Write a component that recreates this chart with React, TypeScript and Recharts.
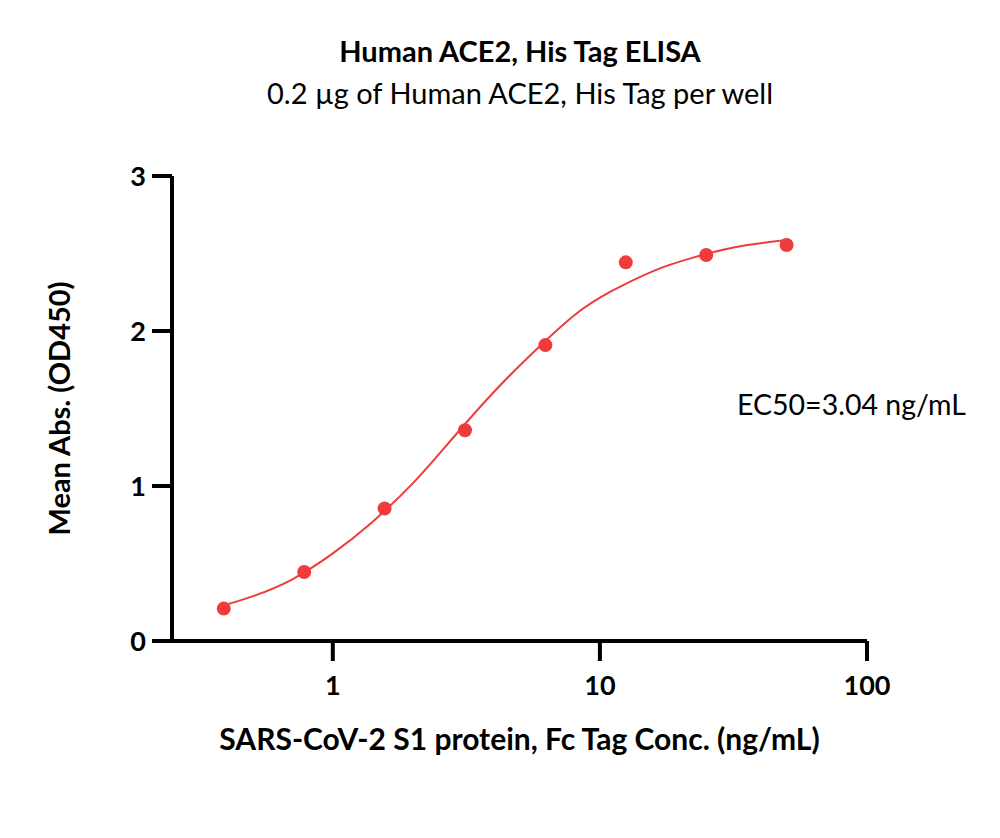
import { ComposedChart, Line, Scatter, XAxis, YAxis } from "recharts";

// 2-fold dilution series of SARS-CoV-2 S1 (ng/mL) and mean OD450
const concentrations = [0.390625, 0.78125, 1.5625, 3.125, 6.25, 12.5, 25, 50];
const meanAbs = [0.209, 0.445, 0.855, 1.36, 1.909, 2.443, 2.49, 2.555];

// fitted curve
const fitConc = [0.39, 0.5, 0.7, 1, 1.4, 2, 2.8, 4, 5.6, 8, 11, 16, 22, 32, 50];
const fitAbs = [0.23, 0.288, 0.395, 0.565, 0.765, 1.02, 1.305, 1.605, 1.858, 2.1, 2.255, 2.39, 2.47, 2.54, 2.587];

const xTicks = [1, 10, 100];
const yTicks = [0, 1, 2, 3];

const RED = "#EF3B3B";
const FONT = "Lato, 'Open Sans', sans-serif";

const points = concentrations.map((c, i) => ({ conc: c, abs: meanAbs[i] }));
const curve = fitConc.map((c, i) => ({ conc: c, abs: fitAbs[i] }));

const tickStyle = { fill: "#000", fontSize: 27, fontWeight: 700, fontFamily: FONT };

export default function App() {
    return (
        <div style={{ position: "absolute", left: 0, top: 0, width: 1000, height: 838, background: "#fff", fontFamily: FONT }}>
            <div style={{ position: "absolute", left: 0, width: 1040, top: 33, textAlign: "center", fontSize: 29, fontWeight: 700 }}>
                Human ACE2, His Tag ELISA
            </div>
            <div style={{ position: "absolute", left: 0, width: 1040, top: 75, textAlign: "center", fontSize: 29 }}>
                0.2 µg of Human ACE2, His Tag per well
            </div>
            <ComposedChart width={1000} height={838} margin={{ top: 176, right: 133, left: 0, bottom: 0 }}>
                <XAxis
                    dataKey="conc"
                    type="number"
                    scale="log"
                    domain={[0.25, 100]}
                    ticks={xTicks}
                    allowDataOverflow
                    height={197}
                    tickSize={20}
                    tickMargin={15}
                    axisLine={{ stroke: "#000", strokeWidth: 4 }}
                    tickLine={{ stroke: "#000", strokeWidth: 4 }}
                    tick={tickStyle}
                    label={{
                        value: "SARS-CoV-2 S1 protein, Fc Tag Conc. (ng/mL)",
                        position: "insideTop",
                        offset: 88,
                        style: { fill: "#000", fontSize: 30, fontWeight: 700, fontFamily: FONT },
                    }}
                />
                <YAxis
                    dataKey="abs"
                    type="number"
                    domain={[0, 3]}
                    ticks={yTicks}
                    width={172}
                    tickSize={20}
                    tickMargin={6}
                    axisLine={{ stroke: "#000", strokeWidth: 4 }}
                    tickLine={{ stroke: "#000", strokeWidth: 4 }}
                    tick={tickStyle}
                    label={{
                        value: "Mean Abs. (OD450)",
                        angle: -90,
                        position: "insideLeft",
                        offset: 60,
                        style: { fill: "#000", fontSize: 29, fontWeight: 700, fontFamily: FONT, textAnchor: "middle" },
                    }}
                />
                <Line
                    data={curve}
                    dataKey="abs"
                    type="natural"
                    stroke={RED}
                    strokeWidth={2}
                    dot={false}
                    activeDot={false}
                    isAnimationActive={false}
                />
                <Scatter
                    data={points}
                    dataKey="abs"
                    fill={RED}
                    isAnimationActive={false}
                    shape={(p: any) => <circle cx={p.cx} cy={p.cy} r={7} fill={RED} />}
                />
            </ComposedChart>
            <div style={{ position: "absolute", left: 737, top: 387, fontSize: 28.5 }}>EC50=3.04 ng/mL</div>
        </div>
    );
}
